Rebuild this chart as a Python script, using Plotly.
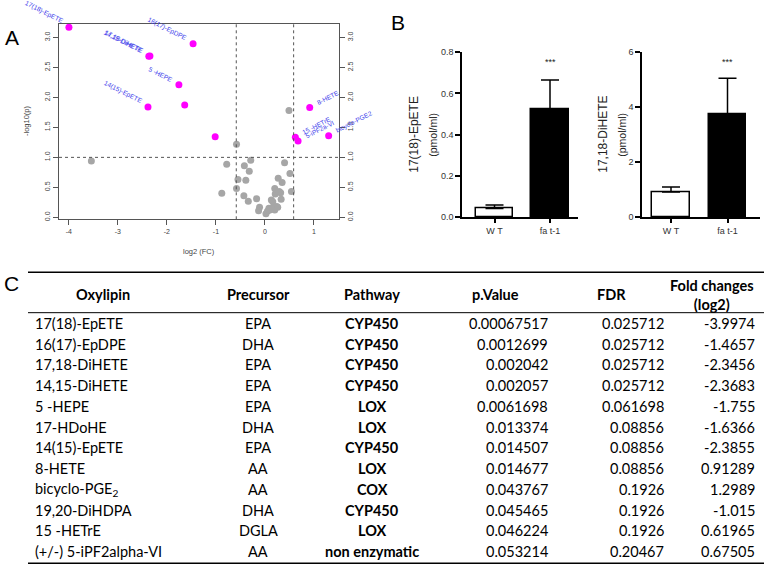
import numpy as np
import plotly.graph_objects as go

W, H = 764, 588


def px(x):
    return x / W


def py(y):
    return 1 - y / H


# ---------------- DATA ----------------
# Table (panel C) / significant oxylipins
oxylipins = ["17(18)-EpETE", "16(17)-EpDPE", "17,18-DiHETE", "14,15-DiHETE", "5 -HEPE",
             "17-HDoHE", "14(15)-EpETE", "8-HETE", "bicyclo-PGE<sub>2</sub>", "19,20-DiHDPA",
             "15 -HETrE", "(+/-) 5-iPF2alpha-VI"]
precursors = ["EPA", "DHA", "EPA", "EPA", "EPA", "DHA", "EPA", "AA", "AA", "DHA", "DGLA", "AA"]
pathways = ["CYP450", "CYP450", "CYP450", "CYP450", "LOX", "LOX", "CYP450", "LOX", "COX",
            "CYP450", "LOX", "non enzymatic"]
p_values = [0.00067517, 0.0012699, 0.002042, 0.002057, 0.0061698, 0.013374, 0.014507,
            0.014677, 0.043767, 0.045465, 0.046224, 0.053214]
fdr_values = [0.025712, 0.025712, 0.025712, 0.025712, 0.061698, 0.08856, 0.08856, 0.08856,
              0.1926, 0.1926, 0.1926, 0.20467]
fold_log2 = [-3.9974, -1.4657, -2.3456, -2.3683, -1.755, -1.6366, -2.3855, 0.91289, 1.2989,
             -1.015, 0.61965, 0.67505]
table_headers = ["Oxylipin", "Precursor", "Pathway", "p.Value", "FDR", "Fold changes<br>(log2)"]

# Volcano plot (panel A): labels drawn next to significant points
volcano_labels = ["17(18)-EpETE", "16(17)-EpDPE", "17,18-DiHETE", "14,15-DiHETE", "5 -HEPE",
                  "", "14(15)-EpETE", "8-HETE", "bicyclo-PGE2", "", "15 -HETrE", "5-iPF2a-VI"]
# non-significant oxylipins (log2 FC, -log10 p)
ns_log2fc = [-3.54, -0.78, -0.88, -0.58, -0.55, -0.58, -0.42, -0.39, -0.43, -0.29, -0.32,
             -0.34, -0.17, -0.11, -0.13, 0.05, 0.08, 0.13, 0.16, 0.15, 0.20, 0.24, 0.20, 0.21,
             0.27, 0.29, 0.32, 0.35, 0.33, 0.40, 0.51, 0.54, 0.49, 0.26, 0.02, 0.10]
ns_neglogp = [0.94, 0.885, 0.40, 1.22, 0.63, 0.48, 0.86, 0.62, 0.36, 0.95, 0.77, 0.27, 0.31,
              0.17, 0.11, 0.10, 0.15, 0.29, 0.26, 0.15, 0.12, 0.18, 0.48, 0.39, 0.65, 0.43,
              0.41, 0.58, 0.30, 0.91, 0.73, 0.43, 1.78, 0.17, 0.06, 0.12]
fc_threshold = 0.585
neglogp_threshold = 1.0
x_ticks_a = [-4, -3, -2, -1, 0, 1]
y_ticks_a = [0.0, 0.5, 1.0, 1.5, 2.0, 2.5, 3.0]

# Bar charts (panel B)
groups = ["W T", "fa t-1"]
epete_mean = [0.043, 0.524]
epete_sem = [0.017, 0.141]
dihete_mean = [0.92, 3.75]
dihete_sem = [0.18, 1.30]
epete_ticks = [0.0, 0.2, 0.4, 0.6, 0.8]
dihete_ticks = [0, 2, 4, 6]

# ---------------- FIGURE ----------------
fig = go.Figure()

sig_neglogp = [-np.log10(p) for p in p_values]

AX_FONT = "Liberation Sans, Arial, sans-serif"
TAB_FONT = "Lato, Open Sans, sans-serif"

fig.add_trace(go.Scatter(x=ns_log2fc, y=ns_neglogp, mode="markers",
                         marker=dict(color="#a6a6a6", size=7), xaxis="x", yaxis="y",
                         showlegend=False, hoverinfo="skip"))
fig.add_trace(go.Scatter(x=fold_log2, y=sig_neglogp, mode="markers",
                         marker=dict(color="#ff00ff", size=7), xaxis="x", yaxis="y",
                         showlegend=False, hoverinfo="skip"))
fig.add_trace(go.Scatter(x=[None], y=[None], xaxis="x", yaxis="y2", showlegend=False,
                         hoverinfo="skip"))

# panel B bars
for mean, sem, xa, ya in [(epete_mean, epete_sem, "x2", "y3"),
                          (dihete_mean, dihete_sem, "x3", "y4")]:
    fig.add_trace(go.Bar(x=[0, 1], y=mean, xaxis=xa, yaxis=ya, width=0.67,
                         marker=dict(color=["white", "black"], line=dict(color="black", width=1.5)),
                         error_y=dict(type="data", symmetric=False, array=sem,
                                      arrayminus=[0, 0], color="black", thickness=1.5, width=9),
                         showlegend=False, hoverinfo="skip"))

yr_a = [-0.033, 3.23]
xr_a = [-4.2, 1.51]
tick_a = dict(family=AX_FONT, size=7, color="#444")

layout = dict(
    width=W, height=H, margin=dict(l=0, r=0, t=0, b=0),
    paper_bgcolor="white", plot_bgcolor="white", showlegend=False,
    bargap=0,
    xaxis=dict(domain=[px(59), px(339)], range=xr_a, tickmode="array", tickvals=x_ticks_a,
               ticktext=[str(v) for v in x_ticks_a], ticks="outside", ticklen=5,
               tickcolor="#555", showline=True, mirror=True, linecolor="#555", linewidth=1,
               showgrid=False, zeroline=False, tickfont=tick_a, anchor="y"),
    yaxis=dict(domain=[py(218), py(19)], range=yr_a, tickmode="array", tickvals=y_ticks_a,
               ticktext=["%.1f" % v for v in y_ticks_a], tickangle=-90, ticks="outside",
               ticklen=5, tickcolor="#555", showline=True, mirror=True, linecolor="#555",
               linewidth=1, showgrid=False, zeroline=False, tickfont=tick_a, anchor="x"),
    yaxis2=dict(overlaying="y", side="right", anchor="x", range=yr_a, tickmode="array",
                tickvals=y_ticks_a, ticktext=["%.1f" % v for v in y_ticks_a], tickangle=-90,
                ticks="outside", ticklen=5, tickcolor="#555", showline=False, showgrid=False,
                zeroline=False, tickfont=tick_a),
)

tick_b = dict(family=AX_FONT, size=9, color="#333")
for xa, ya, xdom, yticks, ymax, fmt, off, span in [
        ("xaxis2", "yaxis3", [462, 578], epete_ticks, 0.8, "%.1f", 32.5 / 55.5, 55.5),
        ("xaxis3", "yaxis4", [642, 760], dihete_ticks, 6, "%d", 29 / 56.5, 56.5)]:
    xn = "x" + xa[5:]
    yn = "y" + ya[5:]
    wpx = xdom[1] - xdom[0]
    layout[xa] = dict(domain=[px(xdom[0]), px(xdom[1])], range=[-off, wpx / span - off],
                      tickmode="array", tickvals=[0, 1], ticktext=groups, ticks="outside",
                      ticklen=4, tickwidth=1.5, tickcolor="black", showline=True,
                      linecolor="black", linewidth=1.5, showgrid=False, zeroline=False,
                      tickfont=tick_b, anchor=yn)
    layout[ya] = dict(domain=[py(216), py(48)], range=[0, ymax], tickmode="array",
                      tickvals=yticks, ticktext=[fmt % v for v in yticks], ticks="outside",
                      ticklen=5, tickwidth=1.5, tickcolor="black", showline=True,
                      linecolor="black", linewidth=1.5, showgrid=False, zeroline=False,
                      tickfont=tick_b, anchor=xn)

fig.update_layout(**layout)

shapes = []
for xv in (-fc_threshold, fc_threshold):
    shapes.append(dict(type="line", xref="x", yref="y", x0=xv, x1=xv, y0=yr_a[0], y1=yr_a[1],
                       line=dict(color="#555", width=1, dash="dot")))
shapes.append(dict(type="line", xref="x", yref="y", x0=xr_a[0], x1=xr_a[1],
                   y0=neglogp_threshold, y1=neglogp_threshold,
                   line=dict(color="#555", width=1, dash="dot")))

annotations = []
lab_font = dict(family=AX_FONT, size=6.5, color="rgb(60,60,235)")
for name, xv, yv in zip(volcano_labels, fold_log2, sig_neglogp):
    if not name:
        continue
    if xv < 0:
        annotations.append(dict(x=xv, y=yv, xref="x", yref="y", text=name, showarrow=False,
                                textangle=27, xanchor="right", yanchor="bottom", xshift=-2,
                                yshift=-1, font=lab_font))
    else:
        annotations.append(dict(x=xv, y=yv, xref="x", yref="y", text=name, showarrow=False,
                                textangle=-27, xanchor="left", yanchor="bottom", xshift=3,
                                yshift=-1, font=lab_font))


def note(x, y, text, size, color="#222", angle=0, family=AX_FONT, xanchor="center"):
    annotations.append(dict(x=px(x), y=py(y), xref="paper", yref="paper", text=text,
                            showarrow=False, textangle=angle, xanchor=xanchor,
                            yanchor="middle", font=dict(family=family, size=size, color=color)))


# axis titles panel A
note(199, 251, "log2 (FC)", 7.5, "#444")
note(27, 118, "-log10(p)", 7.5, "#444", angle=-90)

# panel letters
for letter, lx, ly in [("A", 12, 33), ("B", 398, 18), ("C", 11, 283)]:
    note(lx, ly, letter, 21, "black")

# panel B titles and stars
for t1, t2, x1, x2 in [("17(18)-EpETE", "(pmol/ml)", 414, 433),
                       ("17,18-DiHETE", "(pmol/ml)", 603, 622)]:
    note(x1, 132, t1, 12, angle=-90)
    note(x2, 132, t2, 10.5, angle=-90)
annotations.append(dict(x=1, y=0.752, xref="x2", yref="y3", text="***", showarrow=False,
                        xanchor="center", yanchor="middle",
                        font=dict(family=AX_FONT, size=9, color="#222")))
annotations.append(dict(x=1, y=5.64, xref="x3", yref="y4", text="***", showarrow=False,
                        xanchor="center", yanchor="middle",
                        font=dict(family=AX_FONT, size=9, color="#222")))

# ---------------- TABLE (panel C) ----------------
header_y = 295
row_y0 = 324
row_step = 21.1
header_x = [103, 258, 372, 495, 611, 712]
col_right = [None, None, None, 550, 666, 757]
TF = 14.5
for hx, htext in zip(header_x, table_headers):
    txt = "<br>".join("<b>%s</b>" % s for s in htext.split("<br>"))
    note(hx, header_y, txt, TF, "black", family=TAB_FONT)
for i in range(len(oxylipins)):
    yy = row_y0 + i * row_step
    cells = [oxylipins[i], precursors[i], "<b>%s</b>" % pathways[i], str(p_values[i]),
             str(fdr_values[i]), str(fold_log2[i])]
    for j, c in enumerate(cells):
        if j == 0:
            note(33, yy, c, TF, "black", family=TAB_FONT, xanchor="left")
        elif j in (1, 2):
            note(header_x[j], yy, c, TF, "black", family=TAB_FONT)
        else:
            note(col_right[j], yy, c, TF, "black", family=TAB_FONT, xanchor="right")

for yy, lw in [(272, 1.5), (313, 1), (568, 1.5)]:
    shapes.append(dict(type="line", xref="paper", yref="paper", x0=px(28), x1=px(764),
                       y0=py(yy), y1=py(yy), line=dict(color="black", width=lw)))

fig.update_layout(shapes=shapes, annotations=annotations)
fig.write_html("out.html", config={"displayModeBar": False},
               post_script="document.body.style.margin='0px';"
                           "document.body.style.overflow='hidden';")
